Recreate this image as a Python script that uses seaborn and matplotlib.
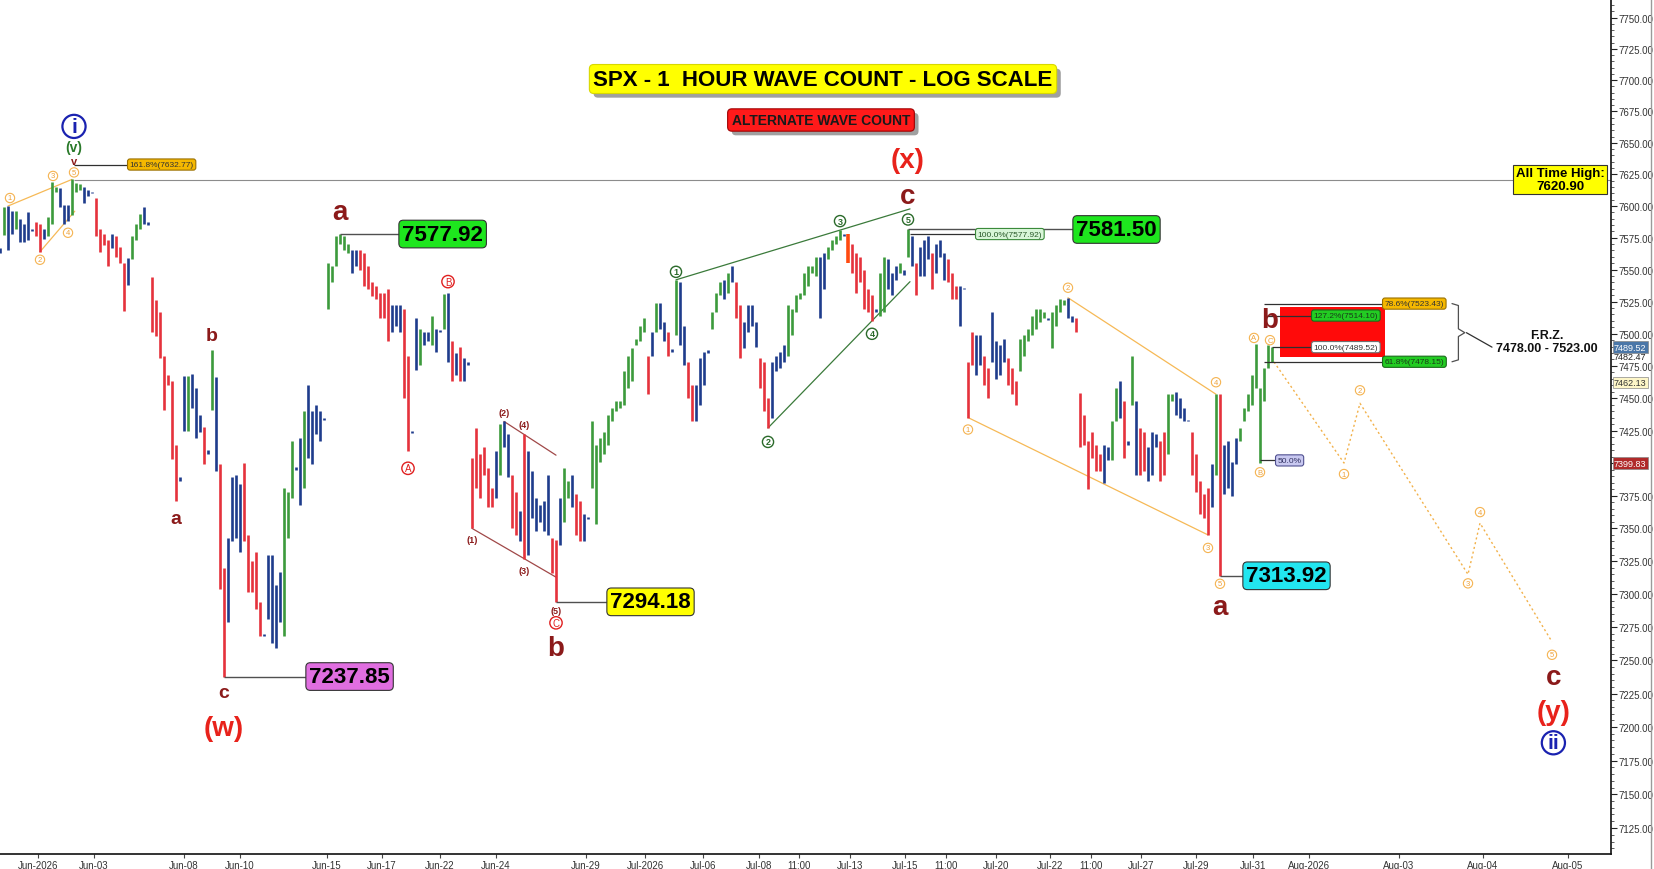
# %%
## SPX 1 hour wave count - log scale (alternate count)

import numpy as np
import pandas as pd
import matplotlib
matplotlib.use("Agg")
import matplotlib.pyplot as plt
import matplotlib.patheffects as pe
from matplotlib.patches import Rectangle
from matplotlib.ticker import FixedLocator, NullFormatter, FuncFormatter
import seaborn as sns

# %%
## hourly bars (high / low / colour code)

highs = [
    7567, 7599, 7600, 7596, 7596, 7590, 7586, 7595, 7582, 7587,
    7586, 7582, 7591, 7619, 7615, 7614, 7601, 7601, 7621, 7618,
    7617, 7615, 7613, 7611, 7606, 7582, 7578, 7573, 7578, 7576,
    7568, 7555, 7559, 7576, 7586, 7594, 7599, 7587, 7544, 7526,
    7517, 7483, 7468, 7463, 7414, 7389, 7467, 7467, 7469, 7458,
    7437, 7428, 7410, 7487, 7466, 7399, 7320, 7343, 7389, 7391,
    7384, 7400, 7345, 7325, 7332, 7294, 7270, 7330, 7330, 7307,
    7317, 7381, 7378, 7417, 7397, 7419, 7440, 7460, 7440, 7445,
    7440, 7435, 7555, 7553, 7576, 7578, 7576, 7570, 7565, 7565,
    7565, 7563, 7553, 7540, 7537, 7532, 7532, 7535, 7522, 7522,
    7522, 7519, 7483, 7425, 7512, 7504, 7501, 7501, 7514, 7504,
    7503, 7531, 7532, 7494, 7485, 7490, 7481, 7478, 7404, 7427,
    7407, 7412, 7396, 7381, 7409, 7430, 7432, 7422, 7391, 7378,
    7363, 7422, 7409, 7394, 7373, 7368, 7371, 7391, 7343, 7341,
    7373, 7396, 7386, 7391, 7376, 7371, 7361, 7359, 7432, 7414,
    7419, 7424, 7437, 7442, 7448, 7448, 7471, 7483, 7489, 7496,
    7506, 7512, 7483, 7501, 7524, 7524, 7509, 7501, 7488, 7542,
    7540, 7506, 7478, 7460, 7460, 7481, 7486, 7487, 7517, 7532,
    7540, 7542, 7547, 7553, 7540, 7522, 7509, 7522, 7522, 7509,
    7481, 7478, 7450, 7478, 7483, 7486, 7491, 7522, 7519, 7530,
    7532, 7547, 7553, 7553, 7560, 7560, 7563, 7568, 7573, 7576,
    7581, 7578, 7578, 7570, 7563, 7560, 7550, 7535, 7530, 7519,
    7547, 7560, 7558, 7547, 7553, 7555, 7550, 7581.5, 7576, 7555,
    7568, 7573, 7576, 7563, 7570, 7573, 7563, 7558, 7547, 7537,
    7537, 7536, 7478, 7501, 7499, 7499, 7483, 7473, 7517, 7494,
    7491, 7496, 7481, 7473, 7463, 7496, 7499, 7504, 7514, 7519,
    7519, 7517, 7512, 7517, 7522, 7527, 7526, 7528, 7514, 7512,
    7454, 7437, 7417, 7424, 7414, 7407, 7414, 7412, 7432, 7458,
    7463, 7448, 7417, 7483, 7448, 7427, 7424, 7412, 7424, 7422,
    7417, 7424, 7453, 7453, 7455, 7450, 7442, 7433, 7424, 7407,
    7386, 7376, 7381, 7399, 7453, 7453, 7414, 7417, 7401, 7419,
    7427, 7442, 7453, 7468, 7492, 7458, 7473, 7491, 7489.5,
]

lows = [
    7563, 7577, 7565, 7578, 7582, 7572, 7572, 7573, 7580, 7576,
    7564, 7574, 7576, 7586, 7611, 7599, 7586, 7588, 7593, 7611,
    7613, 7602, 7608, 7610, 7576, 7564, 7569, 7553, 7567, 7560,
    7555, 7518, 7538, 7558, 7573, 7582, 7586, 7585, 7501, 7498,
    7481, 7441, 7460, 7403, 7371, 7386, 7425, 7425, 7442, 7419,
    7424, 7399, 7407, 7441, 7394, 7304, 7237.85, 7279, 7340, 7343,
    7332, 7340, 7302, 7302, 7289, 7268, 7268, 7281, 7263, 7259,
    7279, 7268, 7343, 7373, 7395, 7368, 7381, 7404, 7399, 7422,
    7417, 7433, 7519, 7540, 7553, 7570, 7565, 7563, 7547, 7553,
    7550, 7537, 7535, 7529, 7527, 7512, 7512, 7494, 7501, 7506,
    7501, 7450, 7409, 7423, 7472, 7476, 7491, 7494, 7491, 7486,
    7501, 7504, 7478, 7463, 7468, 7463, 7463, 7476, 7350, 7381,
    7373, 7391, 7366, 7366, 7373, 7391, 7412, 7389, 7350, 7345,
    7340, 7327, 7330, 7358, 7348, 7355, 7348, 7345, 7316, 7294.18,
    7337, 7355, 7373, 7366, 7345, 7340, 7340, 7357, 7381, 7353,
    7401, 7407, 7414, 7432, 7440, 7442, 7445, 7458, 7463, 7491,
    7494, 7501, 7453, 7483, 7501, 7504, 7494, 7483, 7486, 7499,
    7491, 7476, 7450, 7432, 7432, 7445, 7460, 7485, 7504, 7517,
    7530, 7527, 7532, 7540, 7512, 7481, 7489, 7501, 7506, 7490,
    7458, 7440, 7427, 7435, 7471, 7473, 7478, 7483, 7499, 7517,
    7527, 7530, 7537, 7547, 7545, 7512, 7535, 7558, 7565, 7570,
    7573, 7576, 7555, 7547, 7532, 7540, 7519, 7517, 7510, 7517,
    7514, 7517, 7535, 7530, 7542, 7547, 7546, 7560, 7553, 7530,
    7545, 7545, 7558, 7535, 7547, 7560, 7542, 7540, 7527, 7527,
    7506, 7535, 7435, 7476, 7468, 7476, 7460, 7450, 7478, 7465,
    7468, 7478, 7460, 7453, 7445, 7471, 7483, 7494, 7499, 7504,
    7509, 7512, 7511, 7489, 7506, 7517, 7522, 7512, 7509, 7501,
    7412, 7414, 7380, 7404, 7394, 7394, 7385, 7402, 7402, 7432,
    7435, 7404, 7414, 7445, 7391, 7391, 7394, 7386, 7391, 7412,
    7386, 7391, 7407, 7448, 7437, 7435, 7432, 7432, 7391, 7378,
    7361, 7358, 7345, 7366, 7391, 7313.92, 7376, 7381, 7375, 7399,
    7417, 7432, 7440, 7445, 7458, 7399.83, 7448, 7473, 7478,
]

## g = up, r = down, b = neutral, o = highlighted bar
bar_codes = "".join([
    "bgbbgbbbbr", "rbgggbbbgg", "gbbbrrrrbr", "rrbgggbbrr", "rrrrrbbgbb",
    "brbgbrrbbb", "brrrrrbbbb", "bgggbbgbbb", "bbggggggbb", "rrrrrrrrbb",
    "brrbbgbbgb", "bgbrbrbbrr", "rrrrbgbbrr", "brbbbbbbrr", "bggbrrbbgg",
    "gggggggggg", "ggrbgbbrbg", "bbrrbbbbgg", "gbgbrrbbbb", "rrrbbbbggg",
    "gggggbbggg", "gborrrrrrb", "ggbbbgbgbr", "bbbrbbbrrr", "bbrrbbrrbb",
    "bbrrrggggg", "ggbggggbbr", "rrrrrrbbgg", "brbgbrrbbb", "rrggbbbbrr",
    "rrrbgrbbbb", "ggggggggg",
])

bar_palette = {"g": "#3c9a3c", "r": "#e5323c", "b": "#1e3c8c", "o": "#ff4a10"}

## x axis tick labels (bar positions)
tick_pos = [9.5, 23.5, 46, 60, 81.75, 95.5, 110, 124, 146.5, 161.25, 175.75,
            189.75, 199.75, 212.5, 226.25, 236.5, 249, 262.5, 272.75, 285.25,
            299, 313.25, 327.25, 349.75, 370.75, 392]
tick_labels = ["Jun-2026", "Jun-03", "Jun-08", "Jun-10", "Jun-15", "Jun-17",
               "Jun-22", "Jun-24", "Jun-29", "Jul-2026", "Jul-06", "Jul-08",
               "11:00", "Jul-13", "Jul-15", "11:00", "Jul-20", "Jul-22", "11:00",
               "Jul-27", "Jul-29", "Jul-31", "Aug-2026", "Aug-03", "Aug-04",
               "Aug-05"]

## projected path for wave c of (y)
proj_x = [318.5, 336, 340, 367, 370, 388]
proj_y = [7478, 7400, 7446, 7315, 7354, 7264]

## fibonacci reversal zone
frz_low = 7482
frz_high = 7521
ath = 7620.90

# %%
sns.set_theme(style="white")
plt.rcParams["font.family"] = ["Liberation Sans", "DejaVu Sans"]

fig = plt.figure(figsize=(16.54, 8.70), dpi=100)
ax = fig.add_axes([0, 15 / 870, 1611 / 1654, 855 / 870])
ax.set_yscale("log")
ax.set_ylim(7105.8, 7765)
ax.set_xlim(0, 402.75)

PX = 72 / 100  # points per pixel

idx = np.arange(len(highs))
lw_bars = [2.6 if c == "o" else 1.9 for c in bar_codes[:len(highs)]]
ax.vlines(idx, lows, highs, colors=[bar_palette[c] for c in bar_codes[:len(highs)]],
          linewidth=lw_bars, zorder=3)

## ATH line
ax.hlines(ath, 18.5, 402.75, color="#8c8c8c", lw=0.8, zorder=2)


def piv(i, side):
    return highs[i] if side == "H" else lows[i]


def channel(a, b, color, end=None, lw=0.9):
    (i1, s1), (i2, s2) = a, b
    p1, p2 = piv(i1, s1), piv(i2, s2)
    x_end = i2 if end is None else end
    slope = (np.log(p2) - np.log(p1)) / (i2 - i1)
    p_end = np.exp(np.log(p1) + slope * (x_end - i1))
    ax.plot([i1, x_end], [p1, p_end], color=color, lw=lw, zorder=2)


orange = "#f6b956"
channel((2, "H"), (18, "H"), orange)
channel((10, "L"), (16, "L"), orange, end=18.7)
channel((118, "L"), (131, "L"), "#a04848", end=139)
channel((126, "H"), (131, "H"), "#a04848", end=139)
channel((169, "H"), (210, "H"), "#3a7a3a", end=227.5)
channel((192, "L"), (218, "L"), "#3a7a3a", end=227.5)
channel((267, "H"), (304, "H"), orange)
channel((242, "L"), (302, "L"), orange)

## projection path
proj = pd.DataFrame({"x": proj_x, "y": proj_y})
sns.lineplot(data=proj, x="x", y="y", ax=ax, sort=False, estimator=None,
             color="#f2b14a", lw=1.0, linestyle=(0, (1.5, 2)), zorder=2)

# %%
## wave labels
styles = {
    "oc": dict(fontsize=5.5, color="#eea23a",
               bbox=dict(boxstyle="circle,pad=0.15", fc="white", ec="#f5b350", lw=0.8)),
    "gc": dict(fontsize=6.5, color="#2a6a2a", fontweight="bold",
               bbox=dict(boxstyle="circle,pad=0.12", fc="white", ec="#2a6a2a", lw=1)),
    "rc": dict(fontsize=7, color="#e02020",
               bbox=dict(boxstyle="circle,pad=0.12", fc="white", ec="#e02020", lw=1)),
    "small": dict(fontsize=14, color="#8b1a1a", fontweight="bold"),
    "big": dict(fontsize=20, color="#8b1a1a", fontweight="bold"),
    "deg": dict(fontsize=20, color="#e8221b", fontweight="bold"),
    "paren": dict(fontsize=6.5, color="#8b1a1a", fontweight="bold"),
    "tiny": dict(fontsize=8, color="#8b1a1a", fontweight="bold"),
    "green": dict(fontsize=10, color="#2a7a2a", fontweight="bold"),
    "blue": dict(fontsize=15, color="#1a22b0", fontweight="bold",
                 bbox=dict(boxstyle="circle,pad=0.1", fc="white", ec="#1a22b0", lw=1.6)),
}

wave_marks = [
    (2, "H", "1", "oc", 2, 8), (10, "L", "2", "oc", 0, -8),
    (13, "H", "3", "oc", 1, 6), (16, "L", "4", "oc", 4, -9),
    (18, "H", "5", "oc", 2, 7), (18, "H", "v", "tiny", 2, 18),
    (18, "H", "(v)", "green", 2, 32), (18, "H", "i", "blue", 2, 53),
    (44, "L", "a", "small", 0, -18), (53, "H", "b", "small", 0, 15),
    (56, "L", "c", "small", 0, -16), (56, "L", "(w)", "deg", 0, -51),
    (85, "H", "a", "big", 0, 22), (102, "L", "A", "rc", 0, -17),
    (112, "H", "B", "rc", 0, 11), (118, "L", "(1)", "paren", 0, -11),
    (126, "H", "(2)", "paren", 0, 9), (131, "L", "(3)", "paren", 0, -12),
    (131, "H", "(4)", "paren", 0, 10), (139, "L", "(5)", "paren", 0, -9),
    (139, "L", "C", "rc", 0, -21), (139, "L", "b", "big", 0, -46),
    (169, "H", "1", "gc", 0, 8), (192, "L", "2", "gc", 0, -14),
    (210, "H", "3", "gc", 0, 9), (218, "L", "4", "gc", 0, -13),
    (227, "H", "5", "gc", 0, 10), (227, "H", "c", "big", 0, 33),
    (227, "H", "(x)", "deg", 0, 69),
    (242, "L", "1", "oc", 0, -12), (267, "H", "2", "oc", 0, 10),
    (302, "L", "3", "oc", 0, -13), (304, "H", "4", "oc", 0, 12),
    (305, "L", "5", "oc", 0, -8), (305, "L", "a", "big", 0, -31),
    (314, "H", "A", "oc", -2, 6), (315, "L", "B", "oc", 0, -9),
    (318, "H", "C", "oc", -2, 7), (318, "H", "b", "big", -2, 27),
]

for i, side, txt, st, dx, dy in wave_marks:
    ax.annotate(txt, xy=(i, piv(i, side)), xytext=(dx * PX, dy * PX),
                textcoords="offset points", ha="center", va="center",
                zorder=6, **styles[st])

proj_marks = [("1", -11), ("2", 13), ("3", -9), ("4", 11), ("5", -13)]
for (txt, dy), x, y in zip(proj_marks, proj_x[1:], proj_y[1:]):
    ax.annotate(txt, xy=(x, y), xytext=(0, dy * PX), textcoords="offset points",
                ha="center", va="center", zorder=6, **styles["oc"])

for txt, st, dy in [("c", "big", -35), ("(y)", "deg", -70), ("ii", "blue", -101)]:
    ax.annotate(txt, xy=(proj_x[-1], proj_y[-1]), xytext=(1, dy * PX),
                textcoords="offset points", ha="center", va="center",
                zorder=6, **styles[st])

# %%
## price boxes at the turning points
price_boxes = [
    (56, 7237.85, 76.5, "#e06ee0"),
    (85, 7577.92, 99.75, "#1ee61e"),
    (139, 7294.18, 151.75, "#ffff00"),
    (227, 7581.50, 268.25, "#1ee61e"),
    (305, 7313.92, 310.75, "#22e6f0"),
]
for i, price, xbox, fc in price_boxes:
    ax.hlines(price, i, xbox, color="#505050", lw=1, zorder=4)
    ax.text(xbox + 0.8, price, f"{price:.2f}", ha="left", va="center",
            fontsize=16, fontweight="bold", color="black", zorder=7,
            bbox=dict(boxstyle="round,pad=0.15,rounding_size=0.2", fc=fc,
                      ec="#333333", lw=0.8))

## fibonacci tags
fib_tags = [
    (7632.77, "161.8%(7632.77)", 18.5, 32, "#f5b800", "#9a7000", "#333333"),
    (7577.92, "100.0%(7577.92)", 227.5, 244, "#d8f5d8", "#3a8a3a", "#2a5a2a"),
    (7523.43, "78.6%(7523.43)", 316, 345.75, "#f5b800", "#9a7000", "#333333"),
    (7514.10, "127.2%(7514.10)", 316.5, 328, "#22cc22", "#1a6a1a", "#1a3a1a"),
    (7489.52, "100.0%(7489.52)", 318, 328, "white", "#707070", "#333333"),
    (7478.15, "61.8%(7478.15)", 316, 345.75, "#22cc22", "#1a6a1a", "#1a3a1a"),
    (7402.00, "50.0%", 315, 319, "#c8c8f0", "#505090", "#303060"),
]

ax.add_patch(Rectangle((320, frz_low), 26.25, frz_high - frz_low,
                       fc="#ff0a0a", ec="none", zorder=3))

for price, txt, x0, x1, fc, ec, tc in fib_tags:
    ax.hlines(price, x0, x1, color="#303030", lw=0.9, zorder=4)
    ax.text(x1 + 0.4, price, txt, ha="left", va="center", fontsize=6,
            color=tc, zorder=7,
            bbox=dict(boxstyle="round,pad=0.25,rounding_size=0.3", fc=fc, ec=ec, lw=0.8))

## brace for the reversal zone
top, bot = fib_tags[2][0], fib_tags[5][0]
mid = np.sqrt(top * bot)
ax.plot([363, 364.6, 364.6, 366.2, 364.6, 364.6, 363],
        [top, top * 0.9998, mid * 1.0004, mid, mid * 0.9996, bot * 1.0002, bot],
        color="#505050", lw=0.9, zorder=4)
ax.plot([366.6, 373], [mid, mid * 0.9985], color="#303030", lw=0.9, zorder=4)
ax.text(386.75, mid * 0.9991, "F.R.Z.\n7478.00 - 7523.00", ha="center", va="center",
        fontsize=9, fontweight="bold", color="#111111", linespacing=1.1, zorder=7)

## all time high tag
ax.text(390, ath, "All Time High:\n7620.90", ha="center", va="center",
        fontsize=9.5, fontweight="bold", color="black", linespacing=1.05, zorder=7,
        bbox=dict(boxstyle="square,pad=0.2", fc="#ffff00", ec="#333333", lw=0.8))

# %%
## titles
t1 = fig.text(823 / 1654, 1 - 80 / 870, "SPX - 1  HOUR WAVE COUNT - LOG SCALE",
              ha="center", va="center", fontsize=16, fontweight="bold", color="black",
              bbox=dict(boxstyle="round,pad=0.18,rounding_size=0.2", fc="#ffff00",
                        ec="#d8d800", lw=0.8))
t2 = fig.text(821 / 1654, 1 - 121 / 870, "ALTERNATE WAVE COUNT",
              ha="center", va="center", fontsize=10, fontweight="bold", color="#1a1a1a",
              bbox=dict(boxstyle="round,pad=0.3,rounding_size=0.3", fc="#ff1a1a",
                        ec="#a00000", lw=0.8))
for t in (t1, t2):
    t.get_bbox_patch().set_path_effects([pe.withSimplePatchShadow(offset=(3, -3),
                                                                 shadow_rgbFace="#888888",
                                                                 alpha=0.8)])

# %%
## axes styling
for side in ("top", "left"):
    ax.spines[side].set_visible(False)
for side in ("right", "bottom"):
    ax.spines[side].set_visible(True)
    ax.spines[side].set_color("#111111")
    ax.spines[side].set_linewidth(1.2)

## right axis price tags (the 7400 label sits under the last-price tag)
axis_tags = [
    (7489.52, "7489.52", "#4b77a8", "white"),
    (7482.47, "7482.47", "none", "#222222"),
    (7462.13, "7462.13", "#fdf6c8", "#333333"),
    (7399.83, "7399.83", "#b02a2a", "white"),
]
hidden_ticks = [7400]

ax.yaxis.tick_right()
ax.yaxis.set_major_locator(FixedLocator(np.arange(7125, 7751, 25)))
ax.yaxis.set_major_formatter(
    FuncFormatter(lambda v, p: "" if round(v) in hidden_ticks else f"{v:.2f}"))
ax.yaxis.set_minor_locator(FixedLocator(np.arange(7110, 7765, 5)))
ax.yaxis.set_minor_formatter(NullFormatter())
ax.tick_params(axis="y", which="major", direction="out", length=4, width=0.8,
               labelsize=7, labelcolor="#333333", color="#222222", pad=1.5,
               right=True, left=False)
ax.tick_params(axis="y", which="minor", direction="out", length=2, width=0.6,
               color="#444444", right=True, left=False)

ax.set_xticks(tick_pos)
ax.set_xticklabels(tick_labels)
ax.tick_params(axis="x", direction="out", length=3, width=0.8, labelsize=7,
               labelcolor="#333333", color="#444444", pad=1.5, bottom=True)
ax.set_xlabel("")
ax.set_ylabel("")
ax.grid(False)

for price, txt, fc, tc in axis_tags:
    box = None if fc == "none" else dict(boxstyle="square,pad=0.15", fc=fc,
                                          ec="#888888", lw=0.5)
    ax.annotate(txt, xy=(1, price), xycoords=ax.get_yaxis_transform(),
                xytext=(3 * PX, 0), textcoords="offset points", ha="left",
                va="center", fontsize=6.5, color=tc, bbox=box, zorder=8,
                annotation_clip=False)

fig.add_artist(plt.Line2D([1651 / 1654, 1651 / 1654], [0, 1], color="#9a9a9a", lw=1))

plt.savefig("out.png", dpi=100)
